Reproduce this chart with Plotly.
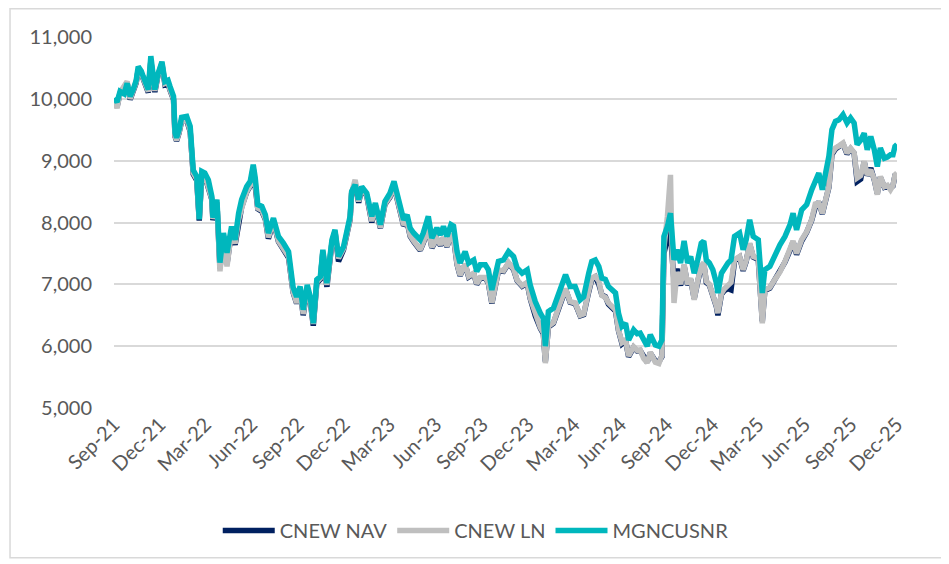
import plotly.graph_objects as go

dates = [
    "2021-09-30","2021-10-06","2021-10-12","2021-10-20","2021-10-26","2021-11-01","2021-11-07","2021-11-13","2021-11-17","2021-11-23",
    "2021-11-27","2021-12-02","2021-12-07","2021-12-12","2021-12-16","2021-12-20","2021-12-26","2022-01-03","2022-01-09","2022-01-15",
    "2022-01-19","2022-01-26","2022-01-29","2022-02-01","2022-02-06","2022-02-11","2022-02-21","2022-02-28","2022-03-06","2022-03-13",
    "2022-03-18","2022-03-23","2022-03-29","2022-04-05","2022-04-12","2022-04-14","2022-04-22","2022-04-28","2022-05-05","2022-05-12",
    "2022-05-21","2022-05-28","2022-06-04","2022-06-10","2022-06-20","2022-06-27","2022-07-03","2022-07-07","2022-07-12","2022-07-20",
    "2022-07-27","2022-08-02","2022-08-12","2022-08-22","2022-09-01","2022-09-11","2022-09-20","2022-09-27","2022-10-04","2022-10-10",
    "2022-10-18","2022-10-24","2022-10-30","2022-11-06","2022-11-13","2022-11-18","2022-11-26","2022-12-06","2022-12-12","2022-12-19",
    "2022-12-29","2023-01-05","2023-01-11","2023-01-14","2023-01-21","2023-01-28","2023-02-03","2023-02-13","2023-02-23","2023-03-02",
    "2023-03-12","2023-03-21","2023-03-31","2023-04-08","2023-04-17","2023-04-27","2023-05-04","2023-05-10","2023-05-17","2023-05-30",
    "2023-06-05","2023-06-15","2023-06-22","2023-07-02","2023-07-09","2023-07-15","2023-07-22","2023-07-30","2023-08-04","2023-08-11",
    "2023-08-17","2023-08-27","2023-09-03","2023-09-13","2023-09-19","2023-09-26","2023-10-06","2023-10-12","2023-10-19","2023-11-01",
    "2023-11-11","2023-11-21","2023-12-01","2023-12-08","2023-12-18","2023-12-28","2024-01-03","2024-01-13","2024-01-23","2024-01-29",
    "2024-02-02","2024-02-08","2024-02-18","2024-02-28","2024-03-06","2024-03-13","2024-03-22","2024-04-01","2024-04-11","2024-04-18",
    "2024-04-28","2024-05-04","2024-05-11","2024-05-18","2024-05-24","2024-05-31","2024-06-06","2024-06-13","2024-06-20","2024-06-26",
    "2024-07-03","2024-07-10","2024-07-16","2024-07-26","2024-08-02","2024-08-08","2024-08-15","2024-08-22","2024-08-28","2024-09-07",
    "2024-09-14","2024-09-20","2024-09-24","2024-10-01","2024-10-07","2024-10-09","2024-10-14","2024-10-20","2024-10-27","2024-11-03",
    "2024-11-10","2024-11-16","2024-11-23","2024-11-30","2024-12-07","2024-12-12","2024-12-17","2024-12-23","2024-12-30","2025-01-06",
    "2025-01-09","2025-01-16","2025-01-22","2025-01-29","2025-02-04","2025-02-11","2025-02-21","2025-02-28","2025-03-06","2025-03-13",
    "2025-03-20","2025-03-30","2025-04-07","2025-04-12","2025-04-22","2025-05-02","2025-05-12","2025-05-22","2025-06-01","2025-06-07",
    "2025-06-14","2025-06-24","2025-07-04","2025-07-14","2025-07-21","2025-07-28","2025-08-04","2025-08-10","2025-08-17","2025-08-23",
    "2025-08-30","2025-09-06","2025-09-14","2025-09-22","2025-09-29","2025-10-06","2025-10-12","2025-10-19","2025-10-26","2025-11-01",
    "2025-11-08","2025-11-15","2025-11-21","2025-11-27","2025-12-05","2025-12-11","2025-12-17","2025-12-22","2025-12-26","2025-12-30",
]

mgncusnr = [
    10010, 9950, 10120, 10080, 10250, 10040, 10150, 10300, 10520, 10450,
    10360, 10250, 10150, 10690, 10400, 10150, 10400, 10600, 10280, 10300,
    10200, 10040, 9450, 9370, 9500, 9700, 9715, 9555, 8850, 8745,
    8050, 8825, 8800, 8690, 8420, 8080, 8370, 7350, 7830, 7510,
    7935, 7720, 8150, 8370, 8580, 8665, 8935, 8720, 8290, 8260,
    8125, 7830, 8070, 7775, 7665, 7530, 6950, 6800, 6965, 6590,
    6990, 6800, 6370, 7075, 7125, 7560, 7020, 7720, 7880, 7450,
    7610, 7830, 8100, 8500, 8610, 8370, 8580, 8475, 8100, 8315,
    7965, 8340, 8475, 8665, 8395, 8045, 8125, 7910, 7830, 7720,
    7830, 8100, 7750, 7910, 7800, 7935, 7775, 7965, 7940, 7530,
    7345, 7530, 7345, 7395, 7210, 7315, 7315, 7235, 6910, 7370,
    7395, 7530, 7450, 7265, 7180, 7235, 6990, 6720, 6535, 6450,
    6000, 6560, 6615, 6860, 6990, 7155, 6965, 6965, 6750, 6800,
    7180, 7370, 7395, 7290, 7100, 7080, 6965, 6900, 6860, 6535,
    6320, 6370, 6100, 6265, 6200, 6210, 6100, 6000, 6185, 6020,
    6000, 6100, 7775, 7935, 8150, 7830, 7395, 7560, 7345, 7700,
    7345, 7450, 7180, 7395, 7665, 7700, 7395, 7345, 7235, 7020,
    6860, 7180, 7265, 7345, 7395, 7775, 7830, 7560, 7720, 8045,
    7775, 7720, 6860, 7235, 7290, 7480, 7640, 7775, 7965, 8150,
    7880, 8205, 8290, 8530, 8690, 8800, 8530, 8745, 9070, 9500,
    9635, 9660, 9745, 9610, 9690, 9610, 9260, 9330, 9445, 9175,
    9390, 9175, 8905, 9205, 9040, 9060, 9095, 9095, 9230, 9260,
]

cnew_ln = [
    9980, 9850, 10100, 10200, 10280, 10000, 10130, 10270, 10480, 10420,
    10330, 10200, 10120, 10620, 10360, 10130, 10380, 10580, 10250, 10270,
    10150, 10000, 9400, 9330, 9460, 9650, 9680, 9480, 8800, 8700,
    8060, 8780, 8760, 8600, 8380, 8060, 8330, 7210, 7780, 7290,
    7880, 7660, 8050, 8230, 8500, 8600, 8880, 8640, 8230, 8200,
    8060, 7760, 8030, 7700, 7560, 7450, 6880, 6700, 6900, 6520,
    6960, 6740, 6360, 7040, 7100, 7530, 6990, 7690, 7860, 7420,
    7580, 7800, 8060, 8480, 8690, 8340, 8570, 8440, 8020, 8280,
    7920, 8300, 8420, 8600, 8330, 7960, 8020, 7790, 7700, 7560,
    7680, 7900, 7600, 7740, 7640, 7760, 7620, 7790, 7770, 7330,
    7150, 7330, 7130, 7180, 7010, 7110, 7110, 7030, 6700, 7230,
    7220, 7350, 7250, 7070, 6980, 7030, 6780, 6500, 6300, 6220,
    5725, 6320, 6380, 6620, 6760, 6930, 6720, 6700, 6500, 6520,
    6900, 7100, 7130, 7050, 6820, 6790, 6700, 6640, 6590, 6260,
    6060, 6100, 5840, 5990, 5930, 5940, 5800, 5730, 5900, 5740,
    5720, 5850, 7600, 8100, 8770, 7900, 6700, 7200, 7000, 7320,
    7000, 7100, 6750, 7060, 7300, 7350, 7050, 7000, 6850, 6650,
    6535, 6850, 6930, 7000, 7030, 7400, 7450, 7235, 7380, 7665,
    7450, 7420, 6370, 6910, 6950, 7080, 7200, 7370, 7560, 7700,
    7500, 7720, 7850, 8050, 8300, 8315, 8150, 8400, 8580, 9120,
    9205, 9240, 9285, 9120, 9200, 9130, 8720, 8760, 8990, 8770,
    8850, 8700, 8450, 8745, 8580, 8600, 8530, 8600, 8770, 8800,
]

cnew_nav = [
    9970, 9870, 10090, 10180, 10260, 9990, 10120, 10260, 10470, 10410,
    10320, 10190, 10100, 10610, 10350, 10110, 10370, 10560, 10230, 10250,
    10140, 9990, 9390, 9320, 9450, 9640, 9660, 9470, 8780, 8680,
    8030, 8770, 8750, 8590, 8370, 8040, 8320, 7260, 7770, 7330,
    7860, 7640, 8040, 8250, 8490, 8590, 8870, 8620, 8220, 8180,
    8050, 7740, 8010, 7690, 7550, 7430, 6870, 6690, 6890, 6500,
    6940, 6730, 6330, 7020, 7080, 7520, 6960, 7670, 7850, 7370,
    7560, 7780, 8050, 8470, 8640, 8320, 8550, 8430, 8000, 8270,
    7910, 8290, 8410, 8590, 8320, 7950, 8010, 7780, 7690, 7550,
    7670, 7890, 7590, 7730, 7630, 7750, 7610, 7780, 7760, 7320,
    7140, 7320, 7120, 7170, 7000, 7100, 7100, 7020, 6690, 7220,
    7210, 7340, 7240, 7060, 6970, 7020, 6770, 6490, 6290, 6200,
    5750, 6310, 6370, 6610, 6750, 6920, 6710, 6690, 6490, 6510,
    6880, 7080, 7120, 7000, 6830, 6800, 6680, 6620, 6570, 6250,
    6040, 6090, 5830, 5980, 5920, 5930, 5810, 5740, 5890, 5760,
    5750, 5830, 7500, 7700, 7950, 7600, 7050, 7250, 6980, 7300,
    6990, 7080, 6770, 7040, 7290, 7330, 7030, 6990, 6840, 6640,
    6500, 6840, 6900, 6930, 6910, 7380, 7440, 7220, 7370, 7650,
    7440, 7400, 6400, 6900, 6940, 7070, 7190, 7360, 7550, 7690,
    7480, 7700, 7840, 8040, 8250, 8330, 8140, 8390, 8570, 9100,
    9190, 9230, 9270, 9110, 9190, 9120, 8660, 8700, 8980, 8760,
    8880, 8690, 8470, 8730, 8570, 8590, 8560, 8590, 8760, 8780,
]

series_names = ["CNEW NAV", "CNEW LN", "MGNCUSNR"]
series_colors = ["#002060", "#BFBFBF", "#00B7BD"]

tick_dates = [
    "2021-09-30","2021-12-30","2022-03-30","2022-06-30","2022-09-30","2022-12-30",
    "2023-03-30","2023-06-30","2023-09-30","2023-12-30","2024-03-30","2024-06-30",
    "2024-09-30","2024-12-30","2025-03-30","2025-06-30","2025-09-30","2025-12-30",
]
tick_labels = [
    "Sep-21","Dec-21","Mar-22","Jun-22","Sep-22","Dec-22","Mar-23","Jun-23","Sep-23",
    "Dec-23","Mar-24","Jun-24","Sep-24","Dec-24","Mar-25","Jun-25","Sep-25","Dec-25",
]

font_family = "Lato, Carlito, 'Liberation Sans', sans-serif"
text_color = "#595959"

fig = go.Figure()
for name, vals, col in zip(series_names, [cnew_nav, cnew_ln, mgncusnr], series_colors):
    fig.add_trace(go.Scatter(
        x=dates, y=vals, name=name, mode="lines",
        line=dict(color=col, width=5.5, shape="linear"),
    ))

fig.update_layout(
    width=941, height=556,
    margin=dict(l=106, r=52, t=29, b=156),
    paper_bgcolor="white", plot_bgcolor="white",
    font=dict(family=font_family, color=text_color, size=20),
    showlegend=True,
    legend=dict(orientation="h", x=0.462, xanchor="center", y=-0.33, yanchor="middle",
                font=dict(size=20, color=text_color), itemwidth=52, traceorder="normal"),
    xaxis=dict(
        type="date", range=["2021-09-30", "2025-12-30"],
        tickmode="array", tickvals=tick_dates, ticktext=tick_labels,
        tickangle=-45, showgrid=False, zeroline=False, showline=False, ticks="",
        tickfont=dict(size=20, color=text_color),
    ),
    yaxis=dict(
        range=[5000, 11000], dtick=1000, tickformat=",", showgrid=True,
        gridcolor="#D9D9D9", gridwidth=1.6, zeroline=False, showline=False, ticks="",
        tickfont=dict(size=20, color=text_color), ticklabelstandoff=21,
    ),
    shapes=[dict(type="rect", xref="paper", yref="paper",
                 x0=-0.1328, x1=1.0588, y0=-0.4035, y1=1.0763,
                 line=dict(color="#D9D9D9", width=1.5), fillcolor="rgba(0,0,0,0)", layer="below")],
)

fig.write_html("out.html")
